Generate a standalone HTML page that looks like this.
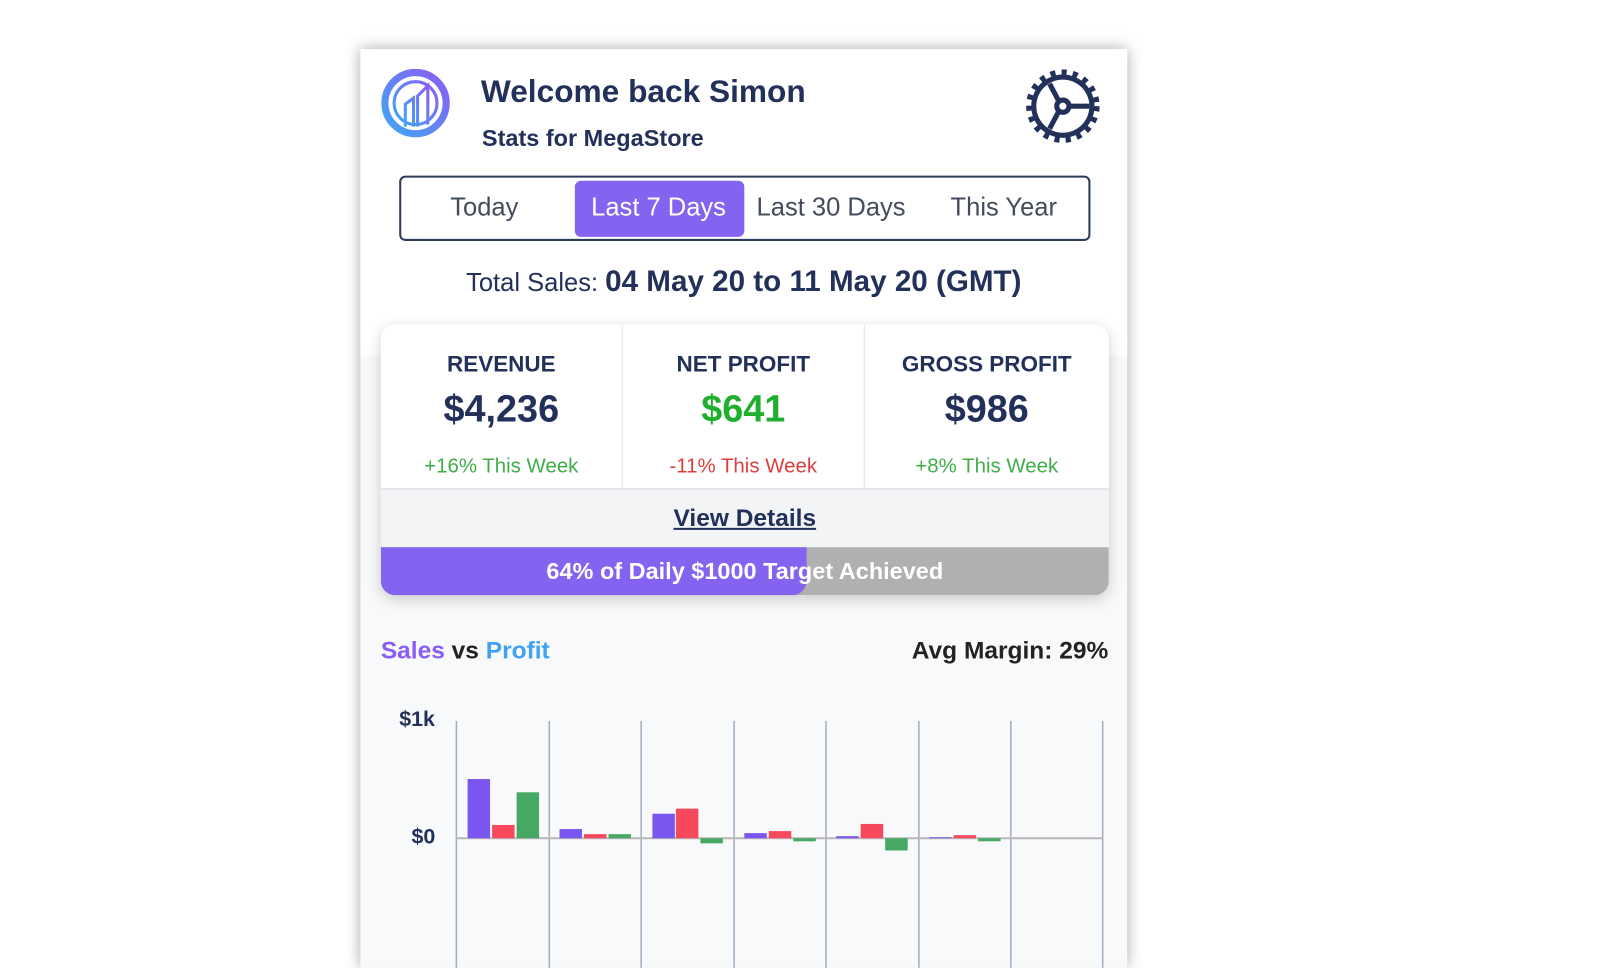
<!DOCTYPE html>
<html><head><meta charset="utf-8"><style>
*{margin:0;padding:0;box-sizing:border-box}
body{width:1600px;height:900px;background:#fff;position:relative;overflow:hidden;font-family:"Liberation Sans",sans-serif;color:#22305a}
#w{position:absolute;left:0;top:0;width:1600px;height:900px;transform:scale(1.021);transform-origin:0 0}
.card{position:absolute;left:353px;top:48px;width:751px;height:900px;background:#f8f9fa;box-shadow:0 0 14px rgba(0,0,0,.35)}
.top{position:absolute;left:0;top:0;width:751px;height:300px;background:#fff}
.a{position:absolute;white-space:nowrap}
</style></head><body><div id="w">
<div class="card">
<div class="top"></div>
<svg class="a" style="left:20px;top:18px" width="70" height="70" viewBox="0 0 70 70">
<defs><linearGradient id="g" x1="0" y1="1" x2="1" y2="0"><stop offset="0" stop-color="#3fa9f5"/><stop offset="1" stop-color="#8b5cf6"/></linearGradient></defs>
<circle cx="34" cy="35" r="30" fill="none" stroke="url(#g)" stroke-width="7"/>
<circle cx="34" cy="35" r="21" fill="none" stroke="url(#g)" stroke-width="3"/>
<path d="M24 58V36l8-6v28M36 58V28l10-10v38" fill="none" stroke="url(#g)" stroke-width="3"/>
</svg>
<div class="a" style="left:118px;top:24px;font-size:31px;font-weight:bold;color:#22305a">Welcome back Simon</div>
<div class="a" style="left:119px;top:74px;font-size:23px;font-weight:bold;color:#22305a">Stats for MegaStore</div>
<svg class="a" style="left:652px;top:20px" width="72" height="72" viewBox="0 0 72 72">
<g fill="#22305a"><circle cx="36" cy="36" r="31"/></g>
<g stroke="#22305a" stroke-width="6" stroke-dasharray="5 6"><circle cx="36" cy="36" r="33" fill="none"/></g>
<circle cx="36" cy="36" r="26" fill="#fff"/>
<g stroke="#22305a" stroke-width="5" fill="none"><circle cx="36" cy="36" r="6"/><path d="M42 36H62M32 31L23 14M32 41L23 58"/></g>
</svg>
<div class="a" style="left:38px;top:124px;width:677px;height:64px;border:2px solid #2d3a5c;border-radius:6px"></div>
<div class="a" style="left:210px;top:129px;width:166px;height:55px;background:#8363ef;border-radius:6px"></div>
<div class="a" style="left:88px;top:141px;font-size:25px;color:#444c5c">Today</div>
<div class="a" style="left:226px;top:141px;font-size:25px;color:#fff">Last 7 Days</div>
<div class="a" style="left:388px;top:141px;font-size:25px;color:#444c5c">Last 30 Days</div>
<div class="a" style="left:578px;top:141px;font-size:25px;color:#444c5c">This Year</div>
<div class="a" style="left:0;width:751px;text-align:center;top:212px;font-size:25px;color:#22305a">Total Sales: <b style="font-size:29px">04 May 20 to 11 May 20 (GMT)</b></div>
<div class="a" style="left:20px;top:270px;width:713px;height:265px;background:#fff;border-radius:14px;box-shadow:0 4px 14px rgba(0,0,0,.18);overflow:hidden">
 <div class="a" style="left:236px;top:0;width:1px;height:160px;background:#e2e4e8"></div>
 <div class="a" style="left:473px;top:0;width:1px;height:160px;background:#e2e4e8"></div>
 <div class="a" style="left:0;top:160px;width:713px;height:58px;background:#f2f4f6;border-top:2px solid #e4e6ea"></div>
 <div class="a" style="left:0;top:218px;width:713px;height:47px;background:#b0b0b0"></div>
 <div class="a" style="left:0;top:218px;width:417px;height:47px;background:#8363ef;border-radius:0 0 14px 14px"></div>
 <div class="a" style="left:0;width:236px;text-align:center;top:26px;font-size:22px;font-weight:bold">REVENUE</div>
 <div class="a" style="left:237px;width:236px;text-align:center;top:26px;font-size:22px;font-weight:bold">NET PROFIT</div>
 <div class="a" style="left:474px;width:239px;text-align:center;top:26px;font-size:22px;font-weight:bold">GROSS PROFIT</div>
 <div class="a" style="left:0;width:236px;text-align:center;top:62px;font-size:37px;font-weight:bold">$4,236</div>
 <div class="a" style="left:237px;width:236px;text-align:center;top:62px;font-size:37px;font-weight:bold;color:#1fae2d">$641</div>
 <div class="a" style="left:474px;width:239px;text-align:center;top:62px;font-size:37px;font-weight:bold">$986</div>
 <div class="a" style="left:0;width:236px;text-align:center;top:128px;font-size:20px;color:#3fae48">+16% This Week</div>
 <div class="a" style="left:237px;width:236px;text-align:center;top:128px;font-size:20px;color:#e03c3c">-11% This Week</div>
 <div class="a" style="left:474px;width:239px;text-align:center;top:128px;font-size:20px;color:#3fae48">+8% This Week</div>
 <div class="a" style="left:0;width:713px;text-align:center;top:176px;font-size:24px;font-weight:bold;text-decoration:underline">View Details</div>
 <div class="a" style="left:0;width:713px;text-align:center;top:228px;font-size:23px;font-weight:bold;color:#fff">64% of Daily $1000 Target Achieved</div>
</div>
<div class="a" style="left:20px;top:576px;font-size:24px;font-weight:bold;color:#222"><span style="color:#8b5cf6">Sales</span> vs <span style="color:#3fa0f5">Profit</span></div>
<div class="a" style="left:540px;top:576px;font-size:24px;font-weight:bold;color:#222">Avg Margin: 29%</div>
<div class="a" style="left:38px;top:645px;font-size:21px;font-weight:bold">$1k</div>
<div class="a" style="left:50px;top:760px;font-size:21px;font-weight:bold">$0</div>
<svg class="a" style="left:0;top:0" width="751" height="900">
<g stroke="#a4acc0" stroke-width="1.5"><path d="M94 658V900M185 658V900M275 658V900M366 658V900M456 658V900M547 658V900M637 658V900M727 658V900"/></g>
<path d="M94 773H727" stroke="#b8b8b8" stroke-width="2"/>
<g fill="#7b55f0"><rect x="105" y="715" width="22" height="58"/><rect x="195" y="764" width="22" height="9"/><rect x="286" y="749" width="22" height="24"/><rect x="376" y="768" width="22" height="5"/><rect x="466" y="771" width="22" height="2"/><rect x="557" y="772" width="22" height="1"/></g>
<g fill="#f7485c"><rect x="129" y="760" width="22" height="13"/><rect x="219" y="769" width="22" height="4"/><rect x="309" y="744" width="22" height="29"/><rect x="400" y="766" width="22" height="7"/><rect x="490" y="759" width="22" height="14"/><rect x="581" y="770" width="22" height="3"/></g>
<g fill="#46a863"><rect x="153" y="728" width="22" height="45"/><rect x="243" y="769" width="22" height="4"/><rect x="333" y="773" width="22" height="5"/><rect x="424" y="773" width="22" height="3"/><rect x="514" y="773" width="22" height="12"/><rect x="605" y="773" width="22" height="3"/></g>
</svg>
</div>
</div></body></html>
